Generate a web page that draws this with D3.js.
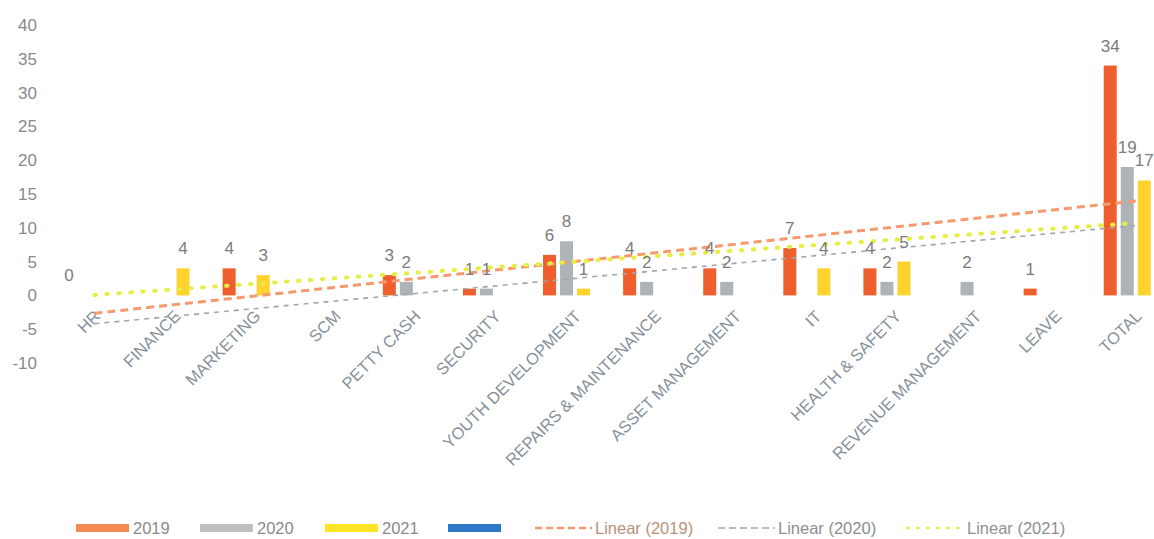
<!DOCTYPE html>
<html>
<head>
<meta charset="utf-8">
<script src="https://cdn.jsdelivr.net/npm/d3@7"></script>
<style>
  html, body { margin: 0; padding: 0; background: #ffffff; }
  svg { display: block; font-family: 'Liberation Sans', Arial, sans-serif; }
</style>
</head>
<body>
<svg id="chart" width="1154" height="539"></svg>
<script>
// ---------- data ----------
const categories = ["HR", "FINANCE", "MARKETING", "SCM", "PETTY CASH", "SECURITY",
  "YOUTH DEVELOPMENT", "REPAIRS & MAINTENANCE", "ASSET MANAGEMENT", "IT",
  "HEALTH & SAFETY", "REVENUE MANAGEMENT", "LEAVE", "TOTAL"];
const seriesNames = ["2019", "2020", "2021", ""];
const values2019 = [0, null, 4, null, 3, 1, 6, 4, 4, 7, 4, null, 1, 34];
const values2020 = [null, null, null, null, 2, 1, 8, 2, 2, null, 2, 2, null, 19];
const values2021 = [null, 4, 3, null, null, null, 1, null, null, 4, 5, null, null, 17];
const values4th  = [null, null, null, null, null, null, null, null, null, null, null, null, null, null];
const yTicks = [-10, -5, 0, 5, 10, 15, 20, 25, 30, 35, 40];
const trendNames = ["Linear (2019)", "Linear (2020)", "Linear (2021)"];

// ---------- styles ----------
const FONT = "'Liberation Sans', Arial, sans-serif";
const barColors = ["#EF5E2D", "#AEB3B8", "#FFD22E", "#2B78C8"];
const legendColors = ["#F28A52", "#C0C0C0", "#FFE424", "#2B78C8"];
const trendStyles = [
  { color: "#F59A6E", width: 3, dash: "8,5", cap: "butt" },
  { color: "#A2A6AA", width: 1.6, dash: "5,5", cap: "butt" },
  { color: "#E6EE44", width: 4, dash: "1.5,10.5", cap: "round" }
];

const allSeries = [values2019, values2020, values2021, values4th];

const svg = d3.select("#chart");

const y = d3.scaleLinear().domain([-10, 40]).range([363, 25]);
const x0 = d3.scaleBand().domain(categories).range([54.4, 1175.8])
  .paddingInner(0.15).paddingOuter(0.075);
const x1 = d3.scaleBand().domain(d3.range(4)).range([0, x0.bandwidth()])
  .paddingInner(0.235).paddingOuter(0.118);

// y axis labels
const yAxis = d3.axisLeft(y).tickValues(yTicks).tickSize(0).tickPadding(0)
  .tickFormat(d => String(d));
const yg = svg.append("g").attr("transform", "translate(37,0)").call(yAxis);
yg.select(".domain").remove();
yg.selectAll("text").attr("font-size", 17).attr("fill", "#8a8a8a").attr("font-family", FONT);

// category labels
const xAxis = d3.axisBottom(x0).tickSize(0).tickPadding(0);
const xg = svg.append("g").attr("transform", "translate(0,316)").call(xAxis);
xg.select(".domain").remove();
xg.selectAll(".tick text")
  .attr("font-size", 16.5).attr("fill", "#86919b").attr("font-family", FONT)
  .attr("text-anchor", "end")
  .attr("x", 4).attr("y", 0).attr("dy", "0.35em")
  .attr("transform", "rotate(-45)");

// bars
const barData = [];
allSeries.forEach((vals, s) => {
  vals.forEach((v, i) => {
    if (v !== null) barData.push({ s, i, v });
  });
});
const cx = d => x0(categories[d.i]) + x1(d.s);
svg.append("g").selectAll("rect").data(barData).join("rect")
  .attr("x", d => cx(d))
  .attr("width", x1.bandwidth())
  .attr("y", d => Math.min(y(d.v), y(0)))
  .attr("height", d => Math.abs(y(0) - y(d.v)))
  .attr("fill", d => barColors[d.s]);

// trendlines (least-squares linear, computed from each series' present points)
function linearFit(vals) {
  const pts = vals.map((v, i) => [i + 1, v]).filter(p => p[1] !== null);
  const mx = d3.mean(pts, p => p[0]), my = d3.mean(pts, p => p[1]);
  const sxy = d3.sum(pts, p => (p[0] - mx) * (p[1] - my));
  const sxx = d3.sum(pts, p => (p[0] - mx) * (p[0] - mx));
  const slope = sxy / sxx;
  return k => my + slope * (k - mx);
}
const center = i => x0(categories[i]) + x0.bandwidth() / 2;
const line = d3.line().x(d => center(d[0])).y(d => y(d[1]));
[values2019, values2020, values2021].forEach((vals, s) => {
  const f = linearFit(vals);
  const pts = [[0, f(1)], [categories.length - 1, f(categories.length)]];
  const st = trendStyles[s];
  svg.append("path").datum(pts).attr("d", line)
    .attr("fill", "none").attr("stroke", st.color).attr("stroke-width", st.width)
    .attr("stroke-dasharray", st.dash).attr("stroke-linecap", st.cap);
});

// data labels
svg.append("g").selectAll("text").data(barData).join("text")
  .attr("x", d => cx(d) + x1.bandwidth() / 2)
  .attr("y", d => y(Math.max(d.v, 0)) - 14)
  .attr("text-anchor", "middle")
  .attr("font-size", 17).attr("fill", "#7c7c7c")
  .text(d => d.v);

// legend
const lg = svg.append("g").attr("font-size", 16.5).attr("fill", "#8a8a8a");
const legendY = 528;
const rectX = [76, 200, 325, 448];
seriesNames.forEach((name, s) => {
  lg.append("rect").attr("x", rectX[s]).attr("y", legendY - 4).attr("width", 53).attr("height", 8)
    .attr("fill", legendColors[s]);
  if (name) lg.append("text").attr("x", rectX[s] + 57).attr("y", legendY).attr("dy", "0.35em").text(name);
});
const trendX = [535, 718, 907];
const trendTextColor = ["#b8937a", "#8a8e92", "#8e9090"];
trendNames.forEach((name, s) => {
  const st = trendStyles[s];
  lg.append("line").attr("x1", trendX[s]).attr("x2", trendX[s] + 57)
    .attr("y1", legendY).attr("y2", legendY)
    .attr("stroke", st.color).attr("stroke-width", Math.min(st.width, 2.5))
    .attr("stroke-dasharray", s === 2 ? "1.5,8.5" : "7,4").attr("stroke-linecap", st.cap);
  lg.append("text").attr("x", trendX[s] + 60).attr("y", legendY).attr("dy", "0.35em")
    .attr("fill", trendTextColor[s]).text(name);
});
</script>
</body>
</html>
